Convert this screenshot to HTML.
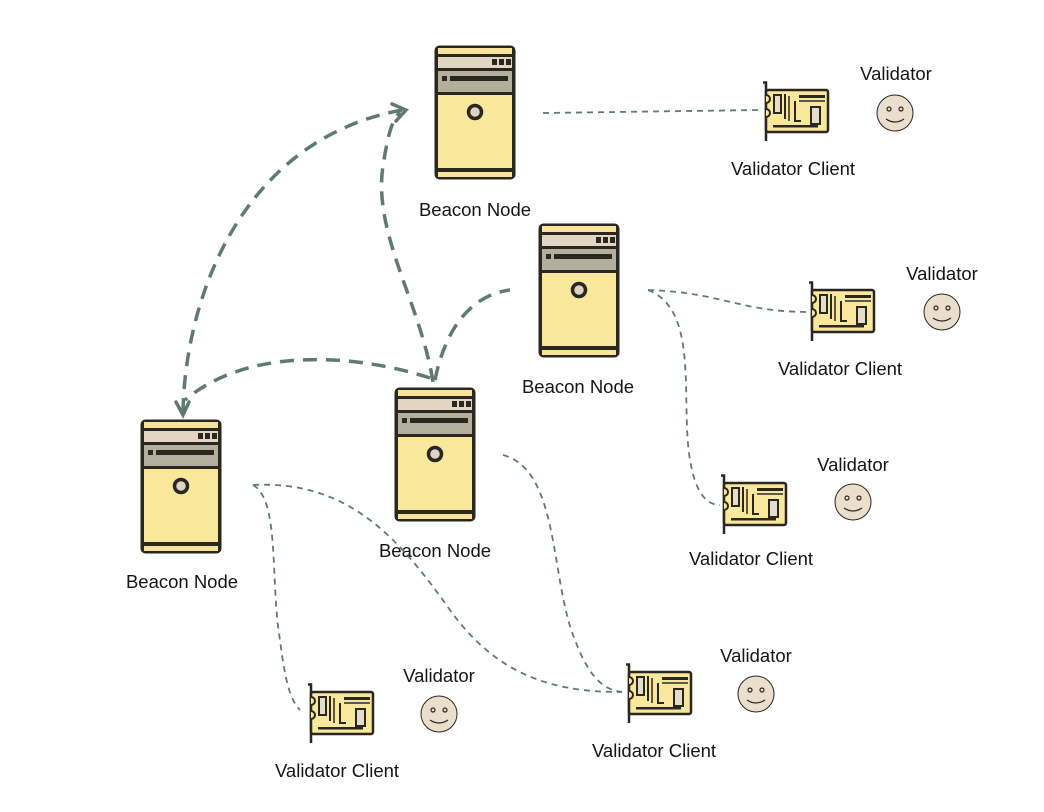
<!DOCTYPE html>
<html><head><meta charset="utf-8"><style>
html,body{margin:0;padding:0;background:#fff}
svg{display:block}
text{font-family:"Liberation Sans",Arial,sans-serif;font-size:18.5px;fill:#151515}
</style></head><body>
<svg width="1044" height="812" viewBox="0 0 1044 812" xmlns="http://www.w3.org/2000/svg">
<defs>
<g id="srv">
  <rect x="1.5" y="1.5" width="81" height="134" rx="5" fill="#2a2620"/>
  <rect x="5" y="4" width="74" height="6" fill="#f7e49a"/>
  <rect x="5" y="13" width="74" height="11" fill="#e2d6c3"/>
  <rect x="59" y="15" width="5" height="6" fill="#2a2620"/>
  <rect x="66" y="15" width="5" height="6" fill="#2a2620"/>
  <rect x="73" y="15" width="5" height="6" fill="#2a2620"/>
  <rect x="5" y="27" width="74" height="21" fill="#b4ae9c"/>
  <rect x="9" y="32" width="5" height="5" fill="#2a2620"/>
  <rect x="17" y="32" width="58" height="5" fill="#2a2620"/>
  <rect x="5" y="51" width="74" height="73" fill="#f9e79b"/>
  <circle cx="42" cy="68" r="6.5" fill="#ddd4c4" stroke="#2a2620" stroke-width="3.5"/>
  <rect x="5" y="128" width="74" height="5" fill="#f7e49a"/>
</g>
<g id="card">
  <path d="M0 1.5 H3 V60" fill="none" stroke="#2a2620" stroke-width="2.5"/>
  <rect x="3" y="9" width="62" height="42" rx="2" fill="#f9e79b" stroke="#2a2620" stroke-width="2.5"/>
  <path d="M3 14 a3 3 0 0 1 0 8 M3 28 a3 3 0 0 1 0 8" fill="#f9e79b" stroke="#2a2620" stroke-width="2"/>
  <rect x="11" y="14" width="7" height="18" fill="#e5dccb" stroke="#2a2620" stroke-width="2"/>
  <line x1="22" y1="13" x2="22" y2="38" stroke="#2a2620" stroke-width="2"/>
  <line x1="26" y1="15" x2="26" y2="40" stroke="#2a2620" stroke-width="1.5"/>
  <path d="M32 20 V40 H38" fill="none" stroke="#2a2620" stroke-width="2"/>
  <rect x="36" y="14" width="26" height="3" fill="#2a2620"/>
  <rect x="36" y="19" width="26" height="2" fill="#5a5a50"/>
  <rect x="48" y="26" width="9" height="17" fill="#e5dccb" stroke="#2a2620" stroke-width="2"/>
  <rect x="10" y="44" width="45" height="2.5" fill="#2a2620"/>
</g>
<g id="smile">
  <circle cx="0" cy="0" r="18" fill="#eadfcc" stroke="#2a2620" stroke-width="1"/>
  <circle cx="-6" cy="-4" r="2" fill="none" stroke="#2a2620" stroke-width="1.2"/>
  <circle cx="6" cy="-4" r="2" fill="none" stroke="#2a2620" stroke-width="1.2"/>
  <path d="M-9 6 Q0 12 9 6" fill="none" stroke="#2a2620" stroke-width="1.3"/>
</g>
</defs>

<g fill="none" stroke="#5f7a70" stroke-width="3.5" stroke-dasharray="14,9">
  <path d="M183 412 C185 300 240 140 402 110"/>
  <path d="M433 382 C420 300 370 230 384 160 C388 135 392 120 400 112"/>
  <path d="M435 380 C445 330 470 295 510 290"/>
  <path d="M430 378 C360 355 250 345 185 400"/>
</g>
<g fill="none" stroke="#5f7a70" stroke-width="3.5" stroke-linecap="round">
  <path d="M392 104 L406 110 L396 121"/>
  <path d="M176 402 L183 415 L189 402"/>
</g>
<g fill="none" stroke="#5f7a70" stroke-width="1.8" stroke-dasharray="6,5">
  <path d="M543 113 L760 110"/>
  <path d="M648 290 C720 292 740 312 808 312"/>
  <path d="M648 290 C700 310 680 400 690 460 C695 490 705 505 720 505"/>
  <path d="M503 455 C560 470 550 580 575 640 C590 680 605 690 622 692"/>
  <path d="M253 485 C280 500 270 580 280 640 C285 680 290 700 300 710"/>
  <path d="M253 485 C350 480 400 540 450 610 C500 680 560 692 622 692"/>
</g>

<use href="#srv" x="433" y="44"/>
<use href="#srv" x="537" y="222"/>
<use href="#srv" x="393" y="386"/>
<use href="#srv" x="139" y="418"/>

<use href="#card" x="763" y="81"/>
<use href="#card" x="809" y="281"/>
<use href="#card" x="721" y="474"/>
<use href="#card" x="308" y="683"/>
<use href="#card" x="626" y="663"/>

<use href="#smile" x="895" y="113"/>
<use href="#smile" x="942" y="312"/>
<use href="#smile" x="853" y="502"/>
<use href="#smile" x="439" y="714"/>
<use href="#smile" x="756" y="694"/>

<g text-anchor="middle">
<text x="475" y="216">Beacon Node</text>
<text x="578" y="393">Beacon Node</text>
<text x="435" y="557">Beacon Node</text>
<text x="182" y="588">Beacon Node</text>

<text x="793" y="175">Validator Client</text>
<text x="840" y="375">Validator Client</text>
<text x="751" y="565">Validator Client</text>
<text x="337" y="777">Validator Client</text>
<text x="654" y="757">Validator Client</text>

<text x="896" y="80">Validator</text>
<text x="942" y="280">Validator</text>
<text x="853" y="471">Validator</text>
<text x="439" y="682">Validator</text>
<text x="756" y="662">Validator</text>
</g>
</svg>
</body></html>
